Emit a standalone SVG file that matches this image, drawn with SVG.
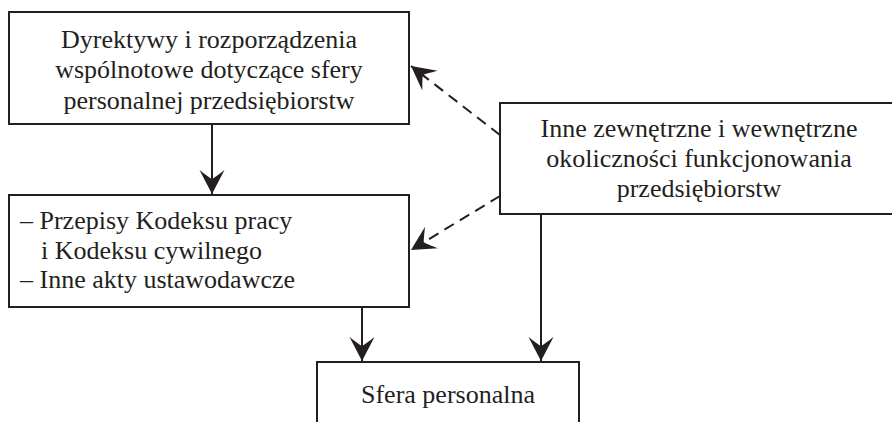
<svg xmlns="http://www.w3.org/2000/svg" width="892" height="422" viewBox="0 0 892 422">
<style>
.box{fill:#fff;stroke:#231f20;stroke-width:2}
.t{font-size:26px;fill:#231f20}
.c{text-anchor:middle}
.ln{stroke:#231f20;stroke-width:2;fill:none}
.dash{stroke-dasharray:11 7}
</style>
<defs>
<marker id="ah" markerUnits="userSpaceOnUse" viewBox="-26 -14 28 28" refX="0" refY="0" markerWidth="28" markerHeight="28" orient="auto">
<path d="M0,0 L-24,-12.5 C-19,-6 -16,-2 -15,0 C-16,2 -19,6 -24,12.5 Z" fill="#231f20"/>
</marker>
</defs>
<rect width="892" height="422" fill="#fff"/>
<g id="connectors">
<line class="ln" x1="212" y1="124" x2="212" y2="194" marker-end="url(#ah)"/>
<line class="ln" x1="362" y1="307" x2="362" y2="361" marker-end="url(#ah)"/>
<line class="ln" x1="541" y1="214" x2="541" y2="361" marker-end="url(#ah)"/>
<line class="ln dash" x1="500" y1="135" x2="411" y2="66" marker-end="url(#ah)"/>
<line class="ln dash" x1="500" y1="196" x2="411" y2="250" marker-end="url(#ah)"/>
</g>
<g font-family="'Liberation Serif', 'Times New Roman', serif">
<g id="node-dyrektywy">
<rect class="box" x="9" y="12" width="400" height="112"/>
<text class="t c" x="209" y="48">Dyrektywy i rozporządzenia</text>
<text class="t c" x="209" y="78">wspólnotowe dotyczące sfery</text>
<text class="t c" x="209" y="109">personalnej przedsiębiorstw</text>
</g>
<g id="node-przepisy">
<rect class="box" x="9" y="195" width="400" height="112"/>
<text class="t" x="20" y="229">– Przepisy Kodeksu pracy</text>
<text class="t" x="41" y="259">i Kodeksu cywilnego</text>
<text class="t" x="20" y="288">– Inne akty ustawodawcze</text>
</g>
<g id="node-inne">
<rect class="box" x="500" y="103" width="400" height="111"/>
<text class="t c" x="699" y="137">Inne zewnętrzne i wewnętrzne</text>
<text class="t c" x="699" y="167">okoliczności funkcjonowania</text>
<text class="t c" x="699" y="197">przedsiębiorstw</text>
</g>
<g id="node-sfera">
<rect class="box" x="317" y="362" width="262" height="80"/>
<text class="t c" x="448" y="403">Sfera personalna</text>
</g>
</g>
</svg>
